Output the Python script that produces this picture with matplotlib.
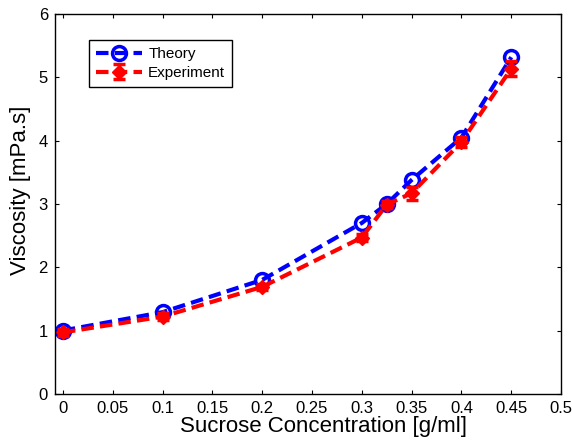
import matplotlib.pyplot as plt

plt.rcParams['font.family'] = ['Liberation Sans', 'DejaVu Sans']

conc = [0, 0.1, 0.2, 0.3, 0.325, 0.35, 0.4, 0.45]
theory = [1.0, 1.29, 1.80, 2.70, 3.00, 3.38, 4.05, 5.32]
experiment = [0.97, 1.22, 1.69, 2.47, 2.99, 3.17, 3.98, 5.14]
exp_err = [0.05, 0.05, 0.05, 0.06, 0.06, 0.1, 0.08, 0.12]

fig = plt.figure(figsize=(5.72, 4.41), dpi=100)
ax = fig.add_axes([0.096, 0.107, 0.885, 0.861])

ax.plot(conc, theory, '--o', color='blue', lw=3, ms=10, mew=2.5,
        mfc='none', mec='blue', label='Theory', dashes=(3, 1.5))
ax.errorbar(conc, experiment, yerr=exp_err, fmt='--D', color='red', lw=3,
            ms=7, mfc='red', mec='red', capsize=4, elinewidth=2.5,
            capthick=2.5, label='Experiment', dashes=(3, 1.5))

ax.set_xlim(-0.008, 0.5)
ax.set_ylim(0, 6)
ax.set_xticks([0, 0.05, 0.1, 0.15, 0.2, 0.25, 0.3, 0.35, 0.4, 0.45, 0.5])
ax.set_xticklabels(['0', '0.05', '0.1', '0.15', '0.2', '0.25', '0.3', '0.35', '0.4', '0.45', '0.5'])
ax.tick_params(direction='in', top=True, right=True, labelsize=12, length=3, pad=5)
for s in ax.spines.values():
    s.set_linewidth(1)

ax.set_xlabel('Sucrose Concentration [g/ml]', fontsize=16)
ax.set_ylabel('Viscosity [mPa.s]', fontsize=16)
ax.xaxis.set_label_coords(0.53, -0.058, transform=ax.transAxes)
ax.yaxis.set_label_coords(-0.048, 0.535, transform=ax.transAxes)

leg = ax.legend(loc='upper left', bbox_to_anchor=(0.053, 0.952), fontsize=11,
                fancybox=False, edgecolor='black', framealpha=1,
                handlelength=3, borderpad=0.45, labelspacing=0.35, handletextpad=0.4)
leg.get_frame().set_linewidth(1)

fig.savefig('out.png', dpi=100)
